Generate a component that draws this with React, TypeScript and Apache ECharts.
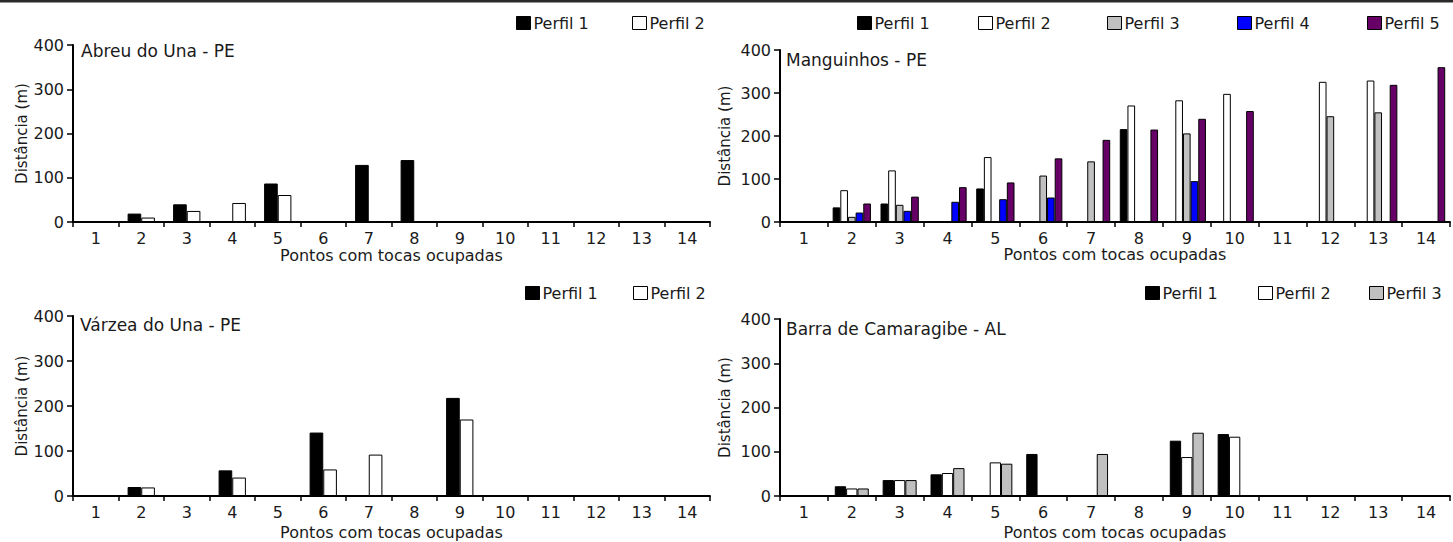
import React, { useEffect, useRef } from "react";
import * as echarts from "echarts";

const categories = ["1", "2", "3", "4", "5", "6", "7", "8", "9", "10", "11", "12", "13", "14"];
const yTicks = [0, 100, 200, 300, 400];

// Abreu do Una - PE
const abreuP1 = [null, 19, 40, null, 87, null, 129, 140, null, null, null, null, null, null];
const abreuP2 = [null, 10, 25, 43, 61, null, null, null, null, null, null, null, null, null];

// Manguinhos - PE
const mangP1 = [null, 34, 43, null, 78, null, null, 216, null, null, null, null, null, null];
const mangP2 = [null, 74, 120, null, 151, null, null, 271, 283, 298, null, 326, 329, null];
const mangP3 = [null, 12, 40, null, null, 108, 141, null, 206, null, null, 246, 255, null];
const mangP4 = [null, 22, 26, 47, 53, 57, null, null, 95, null, null, null, null, null];
const mangP5 = [null, 43, 59, 81, 92, 148, 191, 215, 240, 258, null, null, 319, 360];

// Várzea do Una - PE
const varzeaP1 = [null, 20, null, 57, null, 141, null, null, 218, null, null, null, null, null];
const varzeaP2 = [null, 19, null, 41, null, 59, 92, null, 170, null, null, null, null, null];

// Barra de Camaragibe - AL
const barraP1 = [null, 22, 36, 49, null, 95, null, null, 125, 140, null, null, null, null];
const barraP2 = [null, 17, 36, 52, 76, null, null, null, 88, 134, null, null, null, null];
const barraP3 = [null, 17, 36, 63, 73, null, 95, null, 143, null, null, null, null, null];

const seriesColors: Record<string, string> = {
  "Perfil 1": "#000000",
  "Perfil 2": "#ffffff",
  "Perfil 3": "#c0c0c0",
  "Perfil 4": "#0000ff",
  "Perfil 5": "#660066",
};

const FONT = "DejaVu Sans";
const TXT = "#1a1a1a";

export default function App() {
  const ref = useRef<HTMLDivElement>(null);

  useEffect(() => {
    document.body.style.margin = "0";
    if (!ref.current) return;
    const chart = echarts.init(ref.current, null, { renderer: "svg" });

    const grids = [
      { left: 73, top: 45, width: 637, height: 177 },
      { left: 780, top: 50, width: 670, height: 172 },
      { left: 73, top: 316, width: 637, height: 180 },
      { left: 780, top: 319, width: 670, height: 177 },
    ];
    const yNameGaps = [44, 48, 44, 48];
    const xNameGaps = [25, 24, 28, 28];

    const panels: { data: (number | null)[][]; gap: string }[] = [
      { data: [abreuP1, abreuP2], gap: "40%" },
      { data: [mangP1, mangP2, mangP3, mangP4, mangP5], gap: "20%" },
      { data: [varzeaP1, varzeaP2], gap: "40%" },
      { data: [barraP1, barraP2, barraP3], gap: "29%" },
    ];

    const series: any[] = [];
    panels.forEach((p, gi) => {
      p.data.forEach((d, si) => {
        const name = "Perfil " + (si + 1);
        series.push({
          type: "bar",
          name,
          xAxisIndex: gi,
          yAxisIndex: gi,
          data: d,
          barGap: "0%",
          barCategoryGap: p.gap,
          itemStyle: { color: seriesColors[name], borderColor: "#000", borderWidth: 1 },
        });
      });
    });

    const xAxis = grids.map((_, i) => ({
      type: "category",
      gridIndex: i,
      data: categories,
      axisLine: { lineStyle: { color: "#000", width: 2 } },
      axisTick: { show: true, length: 5, lineStyle: { color: "#000", width: 1.5 } },
      axisLabel: { interval: 0, fontSize: 16, color: TXT, margin: 8, fontFamily: FONT },
      name: "Pontos com tocas ocupadas",
      nameLocation: "middle",
      nameGap: xNameGaps[i],
      nameTextStyle: { fontSize: 16, color: TXT, fontFamily: FONT },
      splitLine: { show: false },
    }));

    const yAxis = grids.map((_, i) => ({
      type: "value",
      gridIndex: i,
      min: yTicks[0],
      max: yTicks[yTicks.length - 1],
      interval: 100,
      splitLine: { show: false },
      axisLine: { show: true, lineStyle: { color: "#000", width: 2 } },
      axisTick: { show: true, length: 6, lineStyle: { color: "#000", width: 1.5 } },
      axisLabel: { fontSize: 16, color: TXT, margin: 9, fontFamily: FONT },
      name: "Distância (m)",
      nameLocation: "middle",
      nameGap: yNameGaps[i],
      nameTextStyle: { fontSize: 15, color: TXT, fontFamily: FONT },
    }));

    const titles = [
      { text: "Abreu do Una - PE", left: 81, top: 42 },
      { text: "Manguinhos - PE", left: 786, top: 51 },
      { text: "Várzea do Una - PE", left: 80, top: 316 },
      { text: "Barra de Camaragibe - AL", left: 786, top: 320 },
    ].map((t) => ({
      ...t,
      padding: 0,
      textStyle: { fontSize: 17, fontWeight: "normal", color: TXT, fontFamily: FONT },
    }));

    const legendDefs: { name: string; left: number; top: number }[] = [
      { name: "Perfil 1", left: 516, top: 15 },
      { name: "Perfil 2", left: 632, top: 15 },
      { name: "Perfil 1", left: 857, top: 15 },
      { name: "Perfil 2", left: 978, top: 15 },
      { name: "Perfil 3", left: 1107, top: 15 },
      { name: "Perfil 4", left: 1237, top: 15 },
      { name: "Perfil 5", left: 1367, top: 15 },
      { name: "Perfil 1", left: 525, top: 285 },
      { name: "Perfil 2", left: 633, top: 285 },
      { name: "Perfil 1", left: 1145, top: 285 },
      { name: "Perfil 2", left: 1258, top: 285 },
      { name: "Perfil 3", left: 1369, top: 285 },
    ];
    const legend = legendDefs.map((l) => ({
      data: [l.name],
      left: l.left,
      top: l.top,
      padding: 0,
      itemWidth: 14,
      itemHeight: 13,
      icon: "rect",
      selectedMode: false,
      textStyle: { fontSize: 16, color: TXT, fontFamily: FONT, padding: [0, 0, 0, -2] },
      itemStyle: { borderColor: "#000", borderWidth: 1 },
    }));

    chart.setOption({
      animation: false,
      backgroundColor: "#ffffff",
      textStyle: { fontFamily: FONT },
      title: titles,
      legend,
      grid: grids,
      xAxis,
      yAxis,
      series,
      graphic: [
        {
          type: "rect",
          shape: { x: 0, y: 0, width: 1453, height: 2.5 },
          style: { fill: "#2a2a2a" },
        },
      ],
    });

    return () => chart.dispose();
  }, []);

  return <div ref={ref} style={{ width: 1453, height: 542 }} />;
}
